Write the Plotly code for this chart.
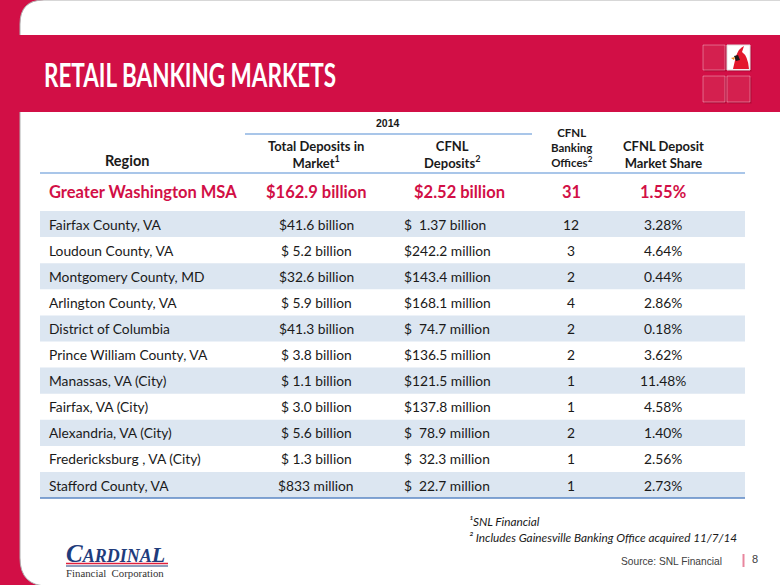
import plotly.graph_objects as go

# ---------------- data ----------------
title = "RETAIL BANKING MARKETS"
msa_region = "Greater Washington MSA"
msa_total = "$162.9 billion"
msa_cfnl = "$2.52 billion"
msa_offices = 31
msa_share = "1.55%"

regions = ["Fairfax County, VA", "Loudoun County, VA", "Montgomery County, MD",
           "Arlington County, VA", "District of Columbia", "Prince William County, VA",
           "Manassas, VA (City)", "Fairfax, VA (City)", "Alexandria, VA (City)",
           "Fredericksburg , VA (City)", "Stafford County, VA"]
total_deposits = ["$41.6 billion", "$ 5.2 billion", "$32.6 billion", "$ 5.9 billion",
                  "$41.3 billion", "$ 3.8 billion", "$ 1.1 billion", "$ 3.0 billion",
                  "$ 5.6 billion", "$ 1.3 billion", "$833 million"]
cfnl_deposits = ["$  1.37 billion", "$242.2 million", "$143.4 million", "$168.1 million",
                 "$  74.7 million", "$136.5 million", "$121.5 million", "$137.8 million",
                 "$  78.9 million", "$  32.3 million", "$  22.7 million"]
offices = [12, 3, 2, 4, 2, 2, 1, 1, 2, 1, 1]
market_share = ["3.28%", "4.64%", "0.44%", "2.86%", "0.18%", "3.62%", "11.48%",
                "4.58%", "1.40%", "2.56%", "2.73%"]

header_year = "2014"
col_headers = ["Region", "Total Deposits in<br>Market<sup>1</sup>", "CFNL<br>Deposits<sup>2</sup>",
               "CFNL<br>Banking<br>Offices<sup>2</sup>", "CFNL Deposit<br>Market Share"]
footnotes = ["¹SNL Financial", "² Includes Gainesville Banking Office acquired 11/7/14"]
source = "Source: SNL Financial"
page_no = "8"

# ---------------- style ----------------
RED = "#D20F46"
NAVY = "#1F3C7C"
SHADE = "#DCE6F1"
LINE = "#8DB3E2"
TXT = "#1A1A1A"
FONT = "Lato"

W, H = 780, 585
ROW_TOP, ROW_H = 211, 26.1
X_REGION, X_TOTAL, X_CFNL, X_OFF, X_SHARE = 47, 316, 402, 571, 663
TBL_L, TBL_R = 40, 745
TITLE_W = 292

fig = go.Figure()
fig.add_trace(go.Scatter(x=[0, W], y=[0, H], mode="markers", marker=dict(opacity=0),
                         hoverinfo="skip", showlegend=False))

shapes = []
ann = []

def nb(s):
    return s.replace(" ", "\u00a0")

# background panel
shapes.append(dict(type="rect", x0=0, x1=W, y0=0, y1=H, fillcolor=RED, line_width=0, layer="below"))
shapes.append(dict(type="path", path="M 20,24 Q 20,0 44,0 L 781,0 L 781,586 L 48,586 Q 20,586 20,558 Z",
                   fillcolor="white", line=dict(color="#B0B0B0", width=1), layer="below"))
# title band
shapes.append(dict(type="rect", x0=13, x1=W, y0=35, y1=112, fillcolor=RED, line_width=0, layer="below"))

# logo tiles top right
tiles = [(703, 725, 45, 70), (727, 750, 45, 70), (703, 725, 76, 102), (727, 750, 76, 102)]
for i, (x0, x1, y0, y1) in enumerate(tiles):
    shapes.append(dict(type="rect", x0=x0 + 1.5, x1=x1 + 1.5, y0=y0 + 1.5, y1=y1 + 1.5,
                       fillcolor="rgba(120,0,30,0.35)", line_width=0, layer="below"))
    shapes.append(dict(type="rect", x0=x0, x1=x1, y0=y0, y1=y1,
                       fillcolor="white" if i == 1 else "#D4204F",
                       line=dict(color="rgba(255,255,255,0.35)" if i != 1 else "#E0E0E0", width=1),
                       layer="below"))
# cardinal bird silhouette
shapes.append(dict(type="path", path="M 733,69 L 736,56 Q 739,48 744,46 L 742,52 Q 748,56 749,69 Z",
                   fillcolor="#E3182D", line_width=0))
shapes.append(dict(type="path", path="M 734,56 L 738,55 L 740,60 L 736,61 Z", fillcolor="#1a1a1a", line_width=0))
shapes.append(dict(type="path", path="M 731,58 L 735,57 L 734,60 Z", fillcolor="#F08A24", line_width=0))

# row shading
for i in range(len(regions)):
    if i % 2 == 0:
        shapes.append(dict(type="rect", x0=TBL_L, x1=TBL_R, y0=ROW_TOP + i * ROW_H,
                           y1=ROW_TOP + (i + 1) * ROW_H, fillcolor=SHADE, line_width=0, layer="below"))

# table lines
shapes.append(dict(type="line", x0=245, x1=532, y0=134, y1=134, line=dict(color=LINE, width=1.5)))
shapes.append(dict(type="line", x0=TBL_L, x1=TBL_R, y0=173, y1=173, line=dict(color=LINE, width=1.5)))
shapes.append(dict(type="line", x0=TBL_L, x1=TBL_R, y0=ROW_TOP + len(regions) * ROW_H,
                   y1=ROW_TOP + len(regions) * ROW_H, line=dict(color="#5B87C5", width=1.5)))

# title
ann.append(dict(x=42, y=74, text="<b>" + title + "</b>", xanchor="left", yanchor="middle",
                font=dict(family=FONT, size=32, color="white")))

# header
ann.append(dict(x=388, y=123, text="<b>" + header_year + "</b>", xanchor="center", yanchor="middle",
                font=dict(family="Liberation Sans", size=10.5, color=TXT)))
hdr_font = dict(family=FONT, size=13, color=TXT)
ann.append(dict(x=127, y=160, text="<b>" + col_headers[0] + "</b>", xanchor="center", yanchor="middle",
                font=dict(family=FONT, size=14.5, color=TXT)))
ann.append(dict(x=316, y=154, text="<b>" + col_headers[1] + "</b>", xanchor="center", yanchor="middle",
                font=hdr_font))
ann.append(dict(x=452, y=154, text="<b>" + col_headers[2] + "</b>", xanchor="center", yanchor="middle",
                font=hdr_font))
ann.append(dict(x=572, y=147, text="<b>" + col_headers[3] + "</b>", xanchor="center", yanchor="middle",
                font=dict(family=FONT, size=11.5, color=TXT)))
ann.append(dict(x=663, y=154, text="<b>" + col_headers[4] + "</b>", xanchor="center", yanchor="middle",
                font=hdr_font))

# MSA row
msa_y = 192
msa_font = dict(family=FONT, size=16.5, color=RED)
ann.append(dict(x=X_REGION, y=msa_y, text="<b>" + msa_region + "</b>", xanchor="left", yanchor="middle", font=msa_font))
ann.append(dict(x=X_TOTAL, y=msa_y, text="<b>" + msa_total + "</b>", xanchor="center", yanchor="middle", font=msa_font))
ann.append(dict(x=459, y=msa_y, text="<b>" + msa_cfnl + "</b>", xanchor="center", yanchor="middle", font=msa_font))
ann.append(dict(x=X_OFF, y=msa_y, text="<b>" + str(msa_offices) + "</b>", xanchor="center", yanchor="middle", font=msa_font))
ann.append(dict(x=X_SHARE, y=msa_y, text="<b>" + msa_share + "</b>", xanchor="center", yanchor="middle", font=msa_font))

# data rows
row_font = dict(family=FONT, size=13.8, color=TXT)
for i, r in enumerate(regions):
    yc = ROW_TOP + (i + 0.5) * ROW_H
    ann.append(dict(x=X_REGION, y=yc, text=r, xanchor="left", yanchor="middle", font=row_font))
    ann.append(dict(x=X_TOTAL, y=yc, text=nb(total_deposits[i]), xanchor="center", yanchor="middle", font=row_font))
    ann.append(dict(x=X_CFNL, y=yc, text=nb(cfnl_deposits[i]), xanchor="left", yanchor="middle", font=row_font))
    ann.append(dict(x=X_OFF, y=yc, text=str(offices[i]), xanchor="center", yanchor="middle", font=row_font))
    ann.append(dict(x=X_SHARE, y=yc, text=market_share[i], xanchor="center", yanchor="middle", font=row_font))

# footnotes
for j, fn in enumerate(footnotes):
    ann.append(dict(x=467, y=521 + j * 16, text="<i>" + fn + "</i>", xanchor="left", yanchor="middle",
                    font=dict(family=FONT, size=11.8, color=TXT)))

# source and page
ann.append(dict(x=724, y=561, text=source, xanchor="right", yanchor="middle",
                font=dict(family="Liberation Sans", size=10.2, color="#404040")))
shapes.append(dict(type="line", x0=743.5, x1=743.5, y0=554, y1=567, line=dict(color="#E8869E", width=2)))
ann.append(dict(x=750, y=559, text=page_no, xanchor="left", yanchor="middle",
                font=dict(family="Liberation Sans", size=11, color="#404040")))

# Cardinal logo
ann.append(dict(x=64, y=553, text="<b><i><span style='font-size:25px'>C</span>ARDINA<span style='font-size:22px'>L</span></i></b>",
                xanchor="left", yanchor="middle",
                font=dict(family="Liberation Serif", size=18, color=NAVY)))
shapes.append(dict(type="line", x0=66, x1=168, y0=563.5, y1=563.5, line=dict(color="#E0203C", width=1.5)))
shapes.append(dict(type="line", x0=66, x1=168, y0=566, y1=566, line=dict(color=NAVY, width=1.2)))
ann.append(dict(x=115, y=573, text="Financial\u00a0\u00a0Corporation", xanchor="center", yanchor="middle",
                font=dict(family="Liberation Serif", size=10.8, color="#333333")))

for a in ann:
    a.update(xref="x", yref="y", showarrow=False)

fig.update_layout(
    width=W, height=H, margin=dict(l=0, r=0, t=0, b=0),
    paper_bgcolor="white", plot_bgcolor="white",
    xaxis=dict(range=[0, W], visible=False, fixedrange=True),
    yaxis=dict(range=[H, 0], visible=False, fixedrange=True),
    shapes=shapes, annotations=ann, showlegend=False,
)

post = """
document.body.style.margin='0';
document.body.style.overflow='hidden';
document.documentElement.style.overflow='hidden';
function condenseTitle(){
  var gd=document.getElementById('{plot_id}');
  if(!gd) return;
  var ts=gd.querySelectorAll('text.annotation-text');
  ts.forEach(function(t){
    if(t.textContent==='%s' && !t.getAttribute('data-cond')){
      var w=t.getComputedTextLength();
      var x=parseFloat(t.getAttribute('x')||'0');
      var anchor=t.getAttribute('text-anchor')||'start';
      var left = anchor==='middle' ? x-w/2 : (anchor==='end' ? x-w : x);
      t.setAttribute('x', left);
      t.setAttribute('text-anchor','start');
      t.setAttribute('textLength','%d');
      t.setAttribute('lengthAdjust','spacingAndGlyphs');
      t.setAttribute('data-cond','1');
    }
  });
}
condenseTitle();
var gdd=document.getElementById('{plot_id}');
if(gdd && gdd.on){gdd.on('plotly_afterplot', condenseTitle);}
setTimeout(condenseTitle, 50);
""" % (title, TITLE_W)

fig.write_html("out.html", config={"displayModeBar": False}, post_script=post)
